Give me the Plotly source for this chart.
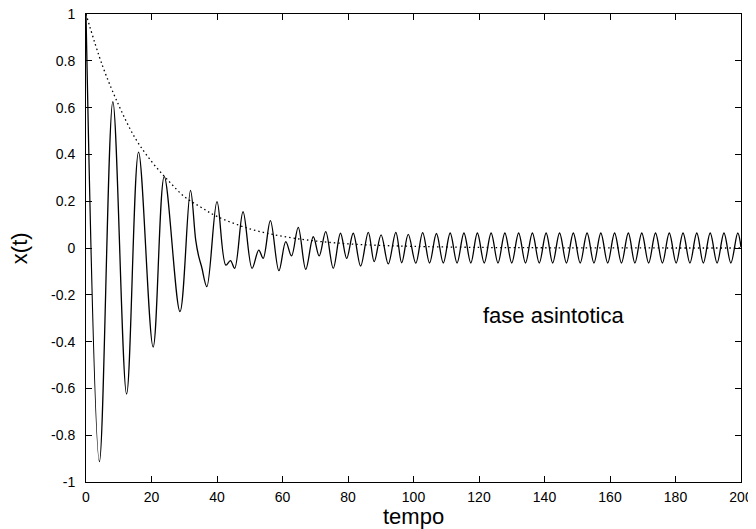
import plotly.graph_objects as go

# ---- data ----
# extrema (and a few shape points) of the oscillation x(t)
t_transient = [0, 4.1, 8.2, 12.4, 16.05, 20.5, 23.9, 28.7, 31.9, 33.5, 34.4, 35.3, 36.9,
               40.0, 42.7, 44.1, 45.4, 47.95, 50.7, 52.75, 54.1, 56.3, 58.9, 61.0, 62.75,
               64.8, 67.1, 69.4, 71.2, 73.2, 75.5, 77.7, 79.6, 81.6, 83.85, 86.2, 88.0,
               90.1, 92.3, 94.6, 96.4, 98.4, 100.7]
x_transient = [1.0, -0.913, 0.625, -0.624, 0.41, -0.423, 0.305, -0.272, 0.246, 0.034, -0.035, -0.08, -0.165,
               0.198, -0.073, -0.054, -0.087, 0.155, -0.087, -0.009, -0.044, 0.117, -0.097, 0.027, -0.034,
               0.088, -0.091, 0.048, -0.034, 0.070, -0.087, 0.063, -0.044, 0.063, -0.077, 0.067, -0.058,
               0.056, -0.068, 0.067, -0.063, 0.058, -0.065]

t_steady = [102.8, 104.9, 107.0, 109.1, 111.2, 113.3, 115.4, 117.5, 119.5, 121.6, 123.7, 125.8,
            127.9, 130.0, 132.1, 134.2, 136.3, 138.4, 140.5, 142.5, 144.6, 146.7, 148.8, 150.9,
            153.0, 155.1, 157.2, 159.3, 161.4, 163.5, 165.6, 167.6, 169.7, 171.8, 173.9, 176.0,
            178.1, 180.2, 182.3, 184.4, 186.5, 188.5, 190.6, 192.7, 194.8, 196.9, 199.0, 200.0]
x_steady = [0.066, -0.064, 0.062, -0.064, 0.064, -0.064, 0.064, -0.064, 0.064, -0.064, 0.064, -0.064,
            0.064, -0.064, 0.064, -0.064, 0.064, -0.064, 0.064, -0.064, 0.064, -0.064, 0.064, -0.064,
            0.064, -0.064, 0.064, -0.064, 0.064, -0.064, 0.064, -0.064, 0.064, -0.064, 0.064, -0.064,
            0.064, -0.064, 0.064, -0.064, 0.064, -0.064, 0.064, -0.064, 0.064, -0.064, 0.064, 0.004]

# dotted envelope
t_env = [0, 5, 10, 15, 20, 25, 30, 35, 40, 50, 60, 70, 80, 90, 100, 120, 140, 160, 180, 200]
x_env = [1.0, 0.78, 0.61, 0.47, 0.37, 0.29, 0.22, 0.175, 0.135, 0.082, 0.05, 0.03, 0.018,
         0.011, 0.007, 0.0025, 0.001, 0.0003, 0.0001, 0.0]

x_tickvals = [0, 20, 40, 60, 80, 100, 120, 140, 160, 180, 200]
x_ticktext = ["0", "20", "40", "60", "80", "100", "120", "140", "160", "180", "200"]
y_tickvals = [-1, -0.8, -0.6, -0.4, -0.2, 0, 0.2, 0.4, 0.6, 0.8, 1]
y_ticktext = ["-1", "-0.8", "-0.6", "-0.4", "-0.2", "0", "0.2", "0.4", "0.6", "0.8", "1"]

FONT = "Liberation Sans, Arial, Helvetica, sans-serif"

fig = go.Figure()
fig.add_trace(go.Scatter(
    x=t_env, y=x_env, mode="lines",
    line=dict(color="black", width=1.3, dash="1.5px,3px", shape="spline"),
    hoverinfo="skip", showlegend=False))
fig.add_trace(go.Scatter(
    x=t_transient + t_steady, y=x_transient + x_steady, mode="lines",
    line=dict(color="black", width=1.3, shape="spline", smoothing=1.0),
    showlegend=False))

axis_common = dict(
    showline=True, linecolor="black", linewidth=1, mirror="allticks",
    ticks="inside", ticklen=6, tickwidth=1, tickcolor="black",
    showgrid=False, zeroline=False, automargin=False, ticklabeloverflow="allow",
    tickfont=dict(family=FONT, size=14, color="black"),
)
fig.update_xaxes(range=[0, 200], tickmode="array", tickvals=x_tickvals, ticktext=x_ticktext,
                 ticklabelstandoff=2, **axis_common)
fig.update_yaxes(range=[-1, 1], tickmode="array", tickvals=y_tickvals, ticktext=y_ticktext,
                 ticklabelstandoff=7, **axis_common)

# page body has an 8px margin: figure is drawn offset by (8, 8)
fig.update_layout(
    width=748, height=521,
    margin=dict(l=78, r=15, t=6, b=47),
    plot_bgcolor="white", paper_bgcolor="white",
    font=dict(family=FONT, color="black"),
    annotations=[
        dict(text="tempo", xref="paper", yref="paper", x=0.5, y=-0.073,
             xanchor="center", yanchor="middle", showarrow=False,
             font=dict(family=FONT, size=22, color="black")),
        dict(text="x(t)", xref="paper", yref="paper", x=-0.102, y=0.5, textangle=-90,
             xanchor="center", yanchor="middle", showarrow=False,
             font=dict(family=FONT, size=22, color="black")),
        dict(text="fase asintotica", xref="x", yref="y", x=120.5, y=-0.29,
             xanchor="left", yanchor="middle", showarrow=False,
             font=dict(family=FONT, size=22, color="black")),
    ],
)

fig.write_html("out.html")
